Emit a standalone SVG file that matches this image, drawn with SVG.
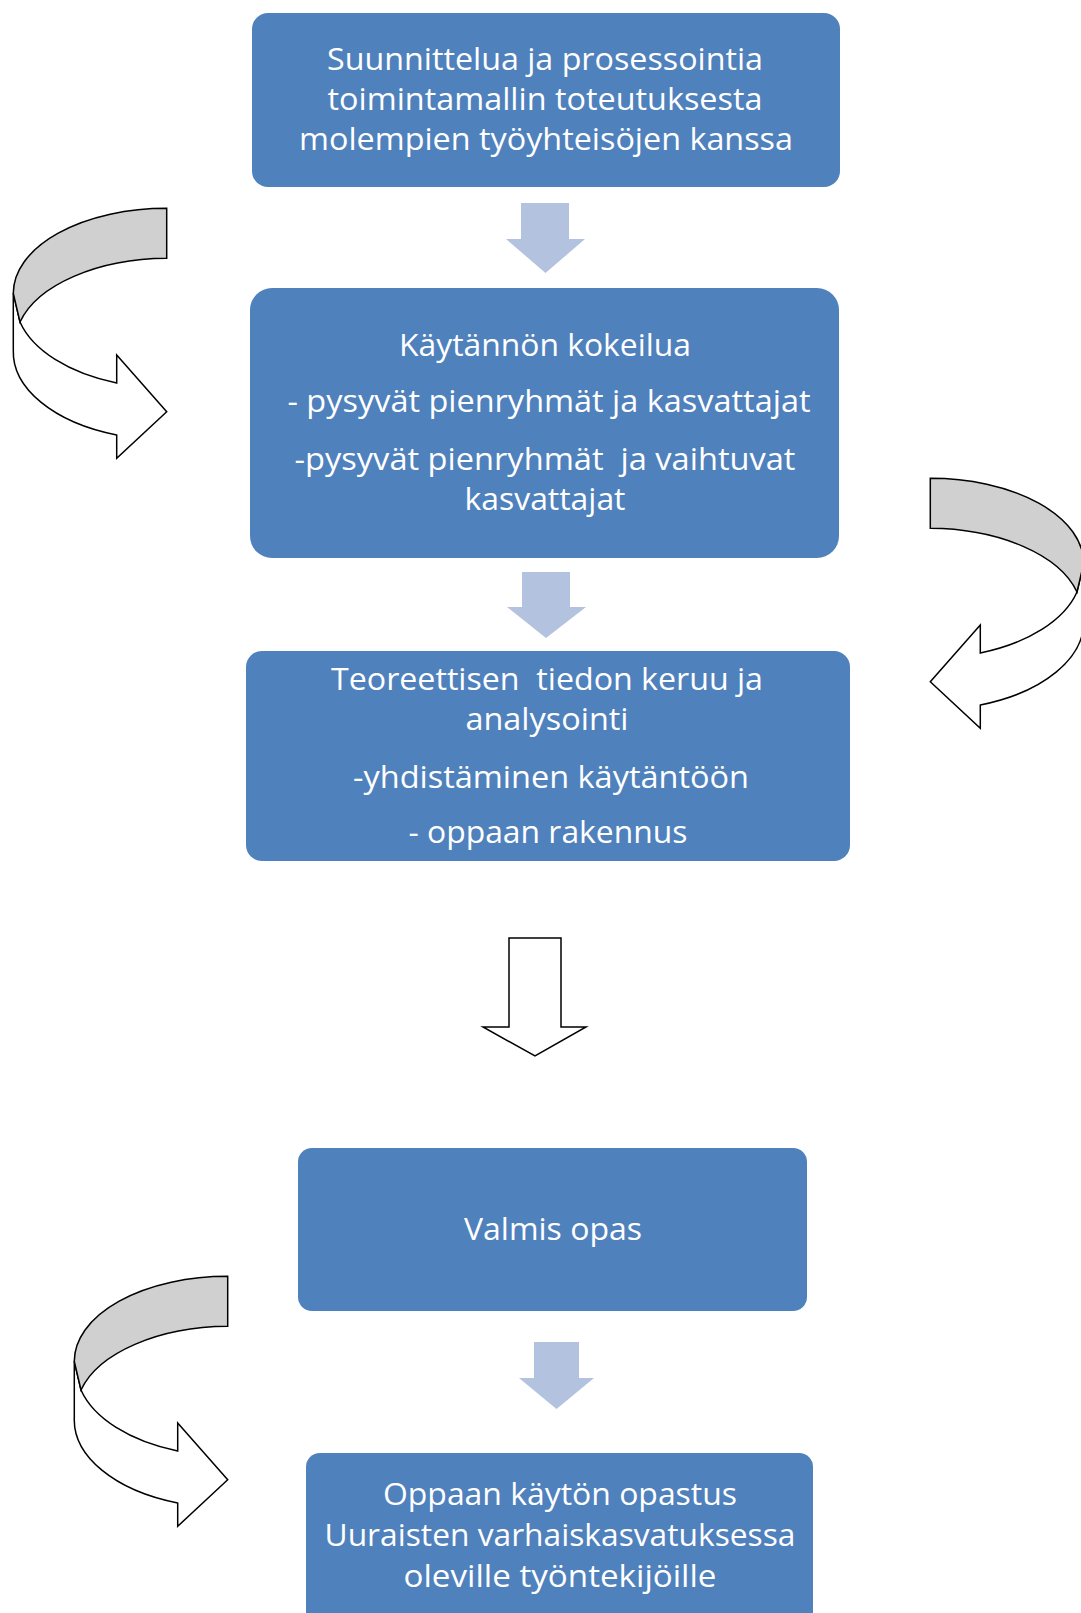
<svg xmlns="http://www.w3.org/2000/svg" width="1081" height="1613" viewBox="0 0 1081 1613">
<style>
.box{fill:#4F81BD;}
.t{font-family:"Open Sans","Noto Sans",sans-serif;font-size:31px;fill:#FFFFFF;text-anchor:middle;white-space:pre;}
.blue{fill:#B3C2DE;}
.white{fill:#FFFFFF;stroke:#000000;stroke-width:1.5;stroke-linejoin:miter;}
.gray{fill:#D0D0D0;stroke:#000000;stroke-width:1.5;}
</style>
<defs>
<g id="curved">
<path class="white" d="M13.3,293.3 L13.3,350 A153.4,88 0 0 0 116.7,435 L116.7,458.3 L166.7,411.7 L116.7,355 L116.7,383 A153.4,88 0 0 1 20,322 Z"/>
<path class="gray" d="M166.7,208.3 A153.4,85 0 0 0 13.3,293.3 L20,322 A153.4,85 0 0 1 166.7,258.3 Z"/>
</g>
</defs>
<g id="connectors">
<polygon class="blue" points="521,203 569,203 569,239 585,239 545.5,273 506,239 521,239"/>
<polygon class="blue" points="522,572 570,572 570,607 586,607 546,638 507,607 522,607"/>
<polygon class="blue" points="534,1342 579,1342 579,1378 594,1378 556.5,1409 519,1378 534,1378"/>
<polygon class="white" points="509,938 561,938 561,1027 586,1027 535,1056 483,1027 509,1027"/>
<use href="#curved"/>
<use href="#curved" transform="translate(1097,270) scale(-1,1)"/>
<use href="#curved" transform="translate(61,1068)"/>
</g>
<g id="node1">
<rect class="box" x="252" y="13" width="588" height="174" rx="16"/>
<text class="t" x="545" y="70" textLength="436" lengthAdjust="spacingAndGlyphs">Suunnittelua ja prosessointia</text>
<text class="t" x="545" y="110" textLength="435" lengthAdjust="spacingAndGlyphs">toimintamallin toteutuksesta</text>
<text class="t" x="546" y="150" textLength="494" lengthAdjust="spacingAndGlyphs">molempien työyhteisöjen kanssa</text>
</g>
<g id="node2">
<rect class="box" x="250" y="288" width="589" height="270" rx="22"/>
<text class="t" x="545" y="356" textLength="292" lengthAdjust="spacingAndGlyphs">Käytännön kokeilua</text>
<text class="t" x="549" y="412" textLength="523" lengthAdjust="spacingAndGlyphs">- pysyvät pienryhmät ja kasvattajat</text>
<text class="t" x="545" y="470" textLength="501" lengthAdjust="spacingAndGlyphs">-pysyvät pienryhmät  ja vaihtuvat</text>
<text class="t" x="545" y="510" textLength="161" lengthAdjust="spacingAndGlyphs">kasvattajat</text>
</g>
<g id="node3">
<rect class="box" x="246" y="651" width="604" height="210" rx="16"/>
<text class="t" x="547" y="690" textLength="432" lengthAdjust="spacingAndGlyphs">Teoreettisen  tiedon keruu ja</text>
<text class="t" x="547" y="730" textLength="163" lengthAdjust="spacingAndGlyphs">analysointi</text>
<text class="t" x="551" y="788" textLength="396" lengthAdjust="spacingAndGlyphs">-yhdistäminen käytäntöön</text>
<text class="t" x="548" y="843" textLength="279" lengthAdjust="spacingAndGlyphs">- oppaan rakennus</text>
</g>
<g id="node4">
<rect class="box" x="298" y="1148" width="509" height="163" rx="14"/>
<text class="t" x="553" y="1240" textLength="178" lengthAdjust="spacingAndGlyphs">Valmis opas</text>
</g>
<g id="node5">
<rect class="box" x="306" y="1453" width="507" height="175" rx="14"/>
<text class="t" x="560" y="1505" textLength="354" lengthAdjust="spacingAndGlyphs">Oppaan käytön opastus</text>
<text class="t" x="560" y="1546" textLength="471" lengthAdjust="spacingAndGlyphs">Uuraisten varhaiskasvatuksessa</text>
<text class="t" x="560" y="1587" textLength="313" lengthAdjust="spacingAndGlyphs">oleville työntekijöille</text>
</g>
</svg>
